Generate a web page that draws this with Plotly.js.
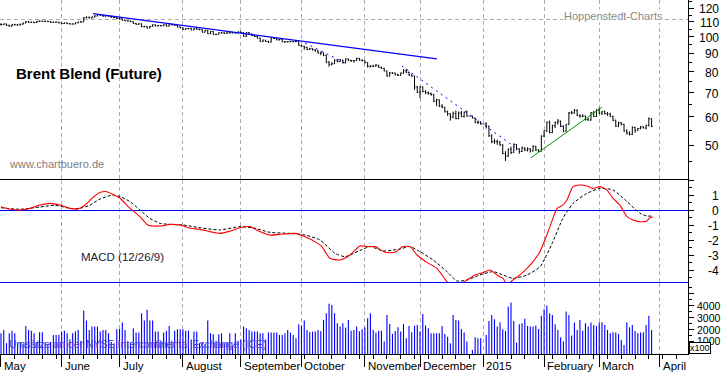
<!DOCTYPE html>
<html><head><meta charset="utf-8">
<script src="https://cdn.plot.ly/plotly-3.0.1.min.js"></script>
<style>html,body{margin:0;padding:0;background:#fff;overflow:hidden}#chart{width:723px;height:373px}</style>
</head><body><div id="chart"></div>
<script>
// ---- categories / ticks ----
const monthStarts = [0,22,43,66,87,109,132,152,175,197,217,239];
const monthLabels = ['May','June','July','August','September','October','November','December','2015','February','March','April'];
const priceTicks = [50,60,70,80,90,100,110,120];
const priceMajor = [40,50,60,70,80,90,100,110,120];
const priceMinor = [45,55,65,75,85,95,105,115,125];
const macdTicks = [1,0,-1,-2,-3,-4];
const volTicks = [1000,2000,3000,4000];

// ---- price (Brent, daily OHLC, May 2014 - Mar 2015) ----
const priceOpen = [
108.4,108.1,108.6,107.7,107.1,108.1,108.0,107.9,108.4,109.2,110.2,109.8,109.8,109.6,110.4,110.6,110.4,110.5,110.3,109.8,109.8,109.9,
109.4,108.9,109.3,108.8,108.6,108.6,109.4,109.9,110.0,113.0,113.4,112.9,113.5,114.3,115.1,114.8,114.1,114.5,114.0,113.2,113.3,
112.4,112.3,111.2,110.8,110.6,110.2,108.9,108.3,108.7,106.7,106.9,105.8,106.9,108.0,107.2,107.6,107.3,108.0,107.1,108.4,107.9,107.7,106.5,
106.0,105.0,105.4,105.6,104.6,105.4,105.0,104.7,103.0,104.3,102.0,103.5,101.6,101.6,102.6,102.6,102.3,102.7,102.5,102.7,102.5,
103.2,102.8,100.3,102.8,101.8,100.8,100.2,99.2,97.0,97.9,97.1,96.7,99.1,98.9,98.1,98.4,96.9,96.9,96.9,97.0,97.0,97.2,
94.7,94.2,93.4,92.3,92.7,92.1,91.4,90.1,90.2,88.9,85.0,83.8,84.2,86.2,85.4,86.2,84.7,86.8,86.1,85.8,85.9,87.1,86.2,
85.9,84.8,82.8,82.9,82.9,83.4,82.3,81.7,80.4,77.9,79.4,79.3,78.5,78.1,79.3,80.4,79.7,78.3,77.8,72.6,
70.2,72.5,70.5,69.9,69.6,69.1,66.2,66.8,64.2,63.7,61.9,61.1,59.9,61.2,59.3,61.4,60.1,61.7,60.2,60.2,59.5,57.9,57.9,
57.3,57.3,56.4,53.1,51.1,51.2,51.0,50.1,47.4,46.6,48.7,47.7,50.2,48.8,48.0,49.0,48.5,48.8,48.2,49.6,48.5,48.1,
53.0,54.8,57.9,54.2,56.6,57.8,58.3,56.4,54.7,57.1,61.5,61.4,62.5,60.5,60.2,60.2,58.9,58.7,61.6,60.1,
62.6,61.4,61.9,61.2,61.0,60.1,58.6,56.5,57.6,57.1,54.7,54.0,53.6,56.0,55.0,55.6,56.2,55.8,56.7,59.2];
const priceHigh = [
109.0,108.9,108.8,108.0,108.5,108.7,108.6,108.9,109.5,110.6,110.5,110.2,110.1,110.8,111.0,110.9,110.9,110.7,110.5,110.2,110.3,110.0,
109.6,109.6,109.5,109.0,108.9,109.7,110.1,110.6,113.5,114.0,113.8,113.9,114.8,115.7,115.5,115.2,114.9,114.8,114.3,113.7,113.6,
112.8,112.5,111.6,111.1,110.9,110.4,109.2,109.1,108.9,107.3,107.1,107.2,108.3,108.2,107.9,107.8,108.3,108.2,108.6,108.7,108.2,107.9,106.8,
106.2,105.7,105.9,105.8,105.7,106.4,105.3,104.9,104.6,104.5,103.8,103.7,102.0,102.9,103.0,102.9,103.0,103.1,103.0,103.0,103.5,
103.4,103.0,103.1,103.0,102.1,101.0,100.4,99.4,98.2,98.1,97.5,99.5,99.7,99.2,98.7,98.6,97.4,97.4,97.5,97.3,97.8,97.4,
95.0,94.4,93.9,93.2,93.0,92.4,91.8,91.0,90.5,89.1,85.6,85.0,86.6,86.5,86.8,86.4,87.1,87.0,86.3,86.1,87.5,87.4,86.5,
86.0,85.0,83.5,83.6,84.0,83.6,82.6,82.0,80.6,79.8,79.7,79.5,79.0,79.6,81.3,81.5,80.0,78.7,78.0,73.0,
73.0,72.8,71.0,70.5,70.0,69.4,67.3,67.0,65.0,63.9,62.4,61.3,62.0,62.4,62.0,62.3,62.0,62.5,60.2,60.4,59.6,58.6,58.3,
57.3,57.9,56.6,53.6,52.1,51.8,51.3,50.3,48.1,49.0,49.5,50.6,50.3,49.0,49.6,49.4,49.3,49.0,50.0,49.8,48.7,53.2,
55.0,58.1,58.5,57.0,58.2,59.1,58.5,56.8,57.3,61.8,62.2,63.0,62.8,60.9,60.9,60.4,59.5,61.8,62.3,62.9,
63.6,62.2,62.4,61.8,61.5,60.4,58.9,58.1,58.0,57.3,55.4,54.6,56.4,56.2,55.8,56.5,56.4,57.0,59.7,59.3];
const priceLow = [
107.6,107.9,107.2,106.6,106.8,107.5,107.4,107.6,108.1,109.0,109.3,109.2,109.1,109.4,110.0,110.0,110.1,110.0,109.3,109.4,109.5,109.0,
108.5,108.6,108.4,108.2,108.2,108.4,109.1,109.6,109.8,112.6,112.4,112.5,113.2,114.0,114.4,113.8,113.7,113.6,112.8,112.9,112.1,
111.8,110.9,110.5,110.3,109.9,108.6,108.0,108.0,106.4,106.2,105.4,105.6,106.6,106.9,107.0,106.9,107.1,106.8,106.9,107.6,107.3,106.2,105.6,
104.6,104.7,104.9,104.2,104.3,104.7,104.3,102.8,102.8,101.8,101.7,101.3,101.1,101.4,102.1,101.9,102.0,102.2,102.2,102.1,102.3,
102.4,100.1,100.1,101.4,100.5,99.9,98.9,96.8,96.7,96.9,96.2,96.5,98.6,97.8,97.7,96.6,96.2,96.5,96.7,96.6,96.7,94.5,
93.6,92.1,91.9,91.9,91.6,90.9,89.8,88.9,88.4,84.5,82.6,83.3,84.0,84.9,85.1,84.3,84.4,85.6,85.1,84.8,85.6,85.8,85.4,
84.4,82.1,82.2,82.4,82.6,82.0,81.4,80.1,77.5,77.6,78.8,78.1,77.8,77.9,79.0,79.3,78.0,77.5,71.2,69.8,
67.5,70.1,69.3,69.0,68.6,65.9,64.2,63.8,63.3,61.6,60.3,58.5,59.4,59.0,59.0,59.8,59.6,60.0,60.2,59.3,57.5,57.2,57.0,
57.3,55.6,52.7,50.6,50.4,50.1,49.7,47.2,45.2,46.4,47.2,47.5,48.4,47.3,47.8,48.1,48.0,47.7,48.0,48.1,47.9,48.0,
52.6,54.4,53.9,54.0,55.8,57.0,56.1,54.3,54.5,56.9,60.9,61.2,60.2,59.6,59.8,58.5,58.4,58.5,59.8,59.9,
61.0,60.6,60.8,60.3,59.8,58.3,56.2,56.1,56.7,54.5,53.5,53.2,53.4,54.1,54.8,55.3,55.6,55.3,56.3,56.1];
const priceClose = [
108.1,108.6,107.7,107.1,108.1,108.0,107.9,108.4,109.2,110.2,109.8,109.8,109.6,110.4,110.6,110.4,110.5,110.3,109.8,109.8,109.9,109.4,
108.9,109.3,108.8,108.6,108.6,109.4,109.9,110.0,113.0,113.4,112.9,113.5,114.3,115.1,114.8,114.1,114.5,114.0,113.2,113.3,112.4,
112.3,111.2,110.8,110.6,110.2,108.9,108.3,108.7,106.7,106.9,105.8,106.9,108.0,107.2,107.6,107.3,108.0,107.1,108.4,107.9,107.7,106.5,106.0,
105.0,105.4,105.6,104.6,105.4,105.0,104.7,103.0,104.3,102.0,103.5,101.6,101.6,102.6,102.6,102.3,102.7,102.5,102.7,102.5,103.2,
102.8,100.3,102.8,101.8,100.8,100.2,99.2,97.0,97.9,97.1,96.7,99.1,98.9,98.1,98.4,96.9,96.9,96.9,97.0,97.0,97.2,94.7,
94.2,93.4,92.3,92.7,92.1,91.4,90.1,90.2,88.9,85.0,83.8,84.2,86.2,85.4,86.2,84.7,86.8,86.1,85.8,85.9,87.1,86.2,85.9,
84.8,82.8,82.9,82.9,83.4,82.3,81.7,80.4,77.9,79.4,79.3,78.5,78.1,79.3,80.4,79.7,78.3,77.8,72.6,70.2,
72.5,70.5,69.9,69.6,69.1,66.2,66.8,64.2,63.7,61.9,61.1,59.9,61.2,59.3,61.4,60.1,61.7,60.2,60.2,59.5,57.9,57.9,57.3,
57.3,56.4,53.1,51.1,51.2,51.0,50.1,47.4,46.6,48.7,47.7,50.2,48.8,48.0,49.0,48.5,48.8,48.2,49.6,48.5,48.1,53.0,
54.8,57.9,54.2,56.6,57.8,58.3,56.4,54.7,57.1,61.5,61.4,62.5,60.5,60.2,60.2,58.9,58.7,61.6,60.1,62.6,
61.4,61.9,61.2,61.0,60.1,58.6,56.5,57.6,57.1,54.7,54.0,53.6,56.0,55.0,55.6,56.2,55.8,56.7,59.2,56.4];

// ---- trend lines (trading-day index, price) ----
const trendDownX = [33.4,158.1], trendDownY = [116.1,86.8];
const trendDot1X = [110.3,124.8], trendDot1Y = [96.1,84.6];
const trendDot2X = [145.4,186.4], trendDot2Y = [83.0,49.4];
const trendUpX = [192.2,218.0], trendUpY = [46.1,63.8];

// ---- MACD (12/26/9) ----
const macdX = [0,3.3,6.9,10.5,14.1,17.8,21.4,25,27.9,30.5,33,35.9,38.4,40.6,43.2,46.8,50.4,53.3,57.7,61.3,64.9,68.6,72.2,75.8,79.4,83.1,86.7,90.3,93.9,97.6,101.2,106.6,110.3,113.9,116.4,119.3,123,126.6,130.2,132.8,135.7,139.3,142.9,145.8,148.4,150.9,154.5,158.1,161.8,164,166.5,169,171.9,174.8,177.4,179.9,182.1,183.5,185.7,188.2,190.8,193,195.5,198,200.2,201.7,203.8,205.3,207.5,210,212.6,214.7,217.3,219.8,222,224.5,227.1,229.2,231.8,234.3,235.4,236.5];
const macdY = [0.22,0.05,0.0,0.11,0.33,0.44,0.33,0.11,0.07,0.33,0.78,1.16,1.22,1.04,0.78,0.11,-0.44,-1.0,-1.07,-0.96,-1.0,-1.22,-1.29,-1.44,-1.56,-1.4,-1.18,-1.11,-1.44,-1.67,-1.62,-1.56,-1.78,-2.11,-2.44,-3.22,-3.33,-3.0,-2.4,-2.44,-2.44,-2.82,-2.82,-2.44,-2.44,-3.0,-3.49,-3.89,-4.78,-5.1,-4.96,-4.67,-4.33,-4.18,-4.0,-4.33,-4.56,-4.95,-4.67,-4.33,-3.89,-3.44,-2.78,-1.67,-0.56,0.11,0.33,0.67,1.56,1.67,1.6,1.44,1.56,1.33,0.78,0.33,-0.44,-0.67,-0.78,-0.73,-0.51,-0.47];
const signalX = [0,6.9,14.1,19.6,25,28.6,32.3,35.9,40.6,43.2,46.8,50.4,54,57.7,61.3,66,72.2,79.4,86.7,92.1,97.6,104.8,110.3,115.7,121.2,124.8,130.2,133.9,138.6,144.7,148.4,152,156.7,161.8,165.4,169,173.7,178.5,182.1,185.7,190.8,195.5,200.2,203.8,207.5,212.6,217.3,222,227.1,231.8,234.3,236.5];
const signalY = [0.15,0.05,0.2,0.31,0.11,0.11,0.33,0.73,1.0,0.89,0.56,0.0,-0.56,-0.89,-0.96,-1.0,-1.18,-1.33,-1.11,-1.22,-1.49,-1.56,-1.67,-2.0,-2.89,-3.11,-2.7,-2.44,-2.73,-2.6,-2.44,-2.78,-3.33,-4.11,-4.73,-4.67,-4.33,-4.11,-4.33,-4.56,-4.33,-3.78,-2.11,-0.56,0.44,1.11,1.44,1.33,0.56,-0.22,-0.4,-0.4];

// ---- volume (x100 contracts) ----
const volume = [
1720,2000,900,1720,1940,1720,900,1000,850,2330,2000,1940,1720,1000,1810,1810,950,800,1000,1580,1580,1580,
1860,1940,1720,1200,1720,1860,2000,1100,3610,2780,2000,2280,2280,2280,1860,2000,2000,1720,1000,900,2080,
2080,2610,2000,1000,950,2140,1780,1780,3390,2780,3670,2780,2780,1860,1860,1100,1780,1940,2330,1100,1940,2060,2060,
2060,1940,1940,1200,1860,1860,900,1000,800,2780,1720,1640,1100,1640,1720,900,1000,1720,700,1720,1100,
1200,2280,2140,2000,1860,1860,1860,1720,1720,1200,1780,1780,1780,1780,1580,1580,1720,2000,1780,1580,1300,2470,
2360,2780,2000,1800,1860,1860,2000,1900,2830,3390,4170,4080,3390,2560,2280,2560,2200,2830,1940,2000,2280,1900,2060,
2220,2970,3390,2000,1780,1940,1940,1030,3250,2500,1670,1920,2220,1860,2500,1310,2330,1810,2360,2420,
1900,3330,2360,2140,1720,1720,1720,1720,2330,1670,1440,890,3250,2830,2780,2080,1780,1030,0,330,1390,1310,1310,
0,1580,2750,3250,2890,2280,2640,2060,1920,3940,4280,2750,940,2470,2560,2920,2330,2280,2280,2360,2080,3170,
3720,4030,3390,3250,2470,2000,1390,1030,3530,3250,1530,2610,2000,2830,1940,2560,2280,2610,2420,2330,
2640,2640,2420,2000,1720,1810,1780,1670,1170,750,2640,2220,2420,1920,1720,1780,1810,2420,3170,2000];

const dayIdx = priceClose.map((_, i) => i);

// ---- geometry (pixels of the 723x373 canvas) ----
const W = 723, H = 373, M = {l:0, r:35, t:0, b:19};
const PH = H - M.t - M.b;            // plot height
const py = v => (PH - v) / PH;        // pixel row -> paper y
const FONT = 'Liberation Sans, Arial, sans-serif';
const GRID = '#b4a6b4';

const traces = [
  {type:'ohlc', x:dayIdx, open:priceOpen, high:priceHigh, low:priceLow, close:priceClose,
   xaxis:'x', yaxis:'y', tickwidth:0.35, hoverinfo:'skip',
   increasing:{line:{color:'#000', width:1}}, decreasing:{line:{color:'#000', width:1}}},
  {type:'scatter', mode:'lines', x:trendDownX, y:trendDownY, xaxis:'x', yaxis:'y', line:{color:'#0000ff', width:1.3}, hoverinfo:'skip'},
  {type:'scatter', mode:'lines', x:trendDot1X, y:trendDot1Y, xaxis:'x', yaxis:'y', line:{color:'#0000ff', width:1, dash:'2px,4px'}, hoverinfo:'skip'},
  {type:'scatter', mode:'lines', x:trendDot2X, y:trendDot2Y, xaxis:'x', yaxis:'y', line:{color:'#0000ff', width:1, dash:'2px,4px'}, hoverinfo:'skip'},
  {type:'scatter', mode:'lines', x:trendUpX, y:trendUpY, xaxis:'x', yaxis:'y', line:{color:'#009900', width:1}, hoverinfo:'skip'},
  {type:'scatter', mode:'lines', x:signalX, y:signalY, xaxis:'x', yaxis:'y2', line:{color:'#000', width:1, dash:'3px,2px', shape:'spline', smoothing:0.6}, hoverinfo:'skip'},
  {type:'scatter', mode:'lines', x:macdX, y:macdY, xaxis:'x', yaxis:'y2', line:{color:'#ff0000', width:1.1, shape:'spline', smoothing:0.6}, hoverinfo:'skip'},
  {type:'bar', x:dayIdx, y:volume, xaxis:'x', yaxis:'y3', width:0.4, marker:{color:'#0000ff', line:{width:0}}, hoverinfo:'skip'}
];

const annotations = [];
monthLabels.forEach((t, i) => annotations.push({xref:'x', yref:'paper', x:monthStarts[i], y:py(366), xanchor:'left', yanchor:'middle', xshift:1,
  text:t, showarrow:false, font:{family:FONT, size:11.5, color:'#000'}}));
priceTicks.forEach(v => annotations.push({xref:'paper', yref:'y', x:1, y:Math.log10(v), xanchor:'right', yanchor:'middle', xshift:33, yshift:-1,
  text:String(v), showarrow:false, font:{family:FONT, size:12, color:'#000'}}));
macdTicks.forEach(v => annotations.push({xref:'paper', yref:'y2', x:1, y:v, xanchor:'right', yanchor:'middle', xshift:33, yshift:-1,
  text:String(v), showarrow:false, font:{family:FONT, size:12, color:'#000'}}));
volTicks.forEach(v => annotations.push({xref:'paper', yref:'y3', x:1, y:v, xanchor:'right', yanchor:'middle', xshift:34,
  yshift:(v === 1000 ? 1 : 0), borderpad:0,
  text:String(v), showarrow:false, font:{family:FONT, size:10.5, color:'#000'}}));
annotations.push(
  {xref:'paper', yref:'paper', x:1, y:0, xanchor:'left', yanchor:'bottom', xshift:1, text:'x100', showarrow:false,
   bgcolor:'#fff', bordercolor:'#000', borderwidth:1, borderpad:0, font:{family:FONT, size:9, color:'#000'}},
  {xref:'paper', yref:'paper', x:14/688, y:py(74), xanchor:'left', yanchor:'middle', text:'<b>Brent Blend (Future)</b>', showarrow:false,
   font:{family:FONT, size:15, color:'#000'}},
  {xref:'paper', yref:'paper', x:7/688, y:py(163.5), xanchor:'left', yanchor:'middle', text:'www.chartbuero.de', showarrow:false,
   font:{family:FONT, size:11, color:'#808080'}},
  {xref:'paper', yref:'paper', x:563/688, y:py(16), xanchor:'left', yanchor:'middle', text:'Hoppenstedt-Charts', showarrow:false,
   bgcolor:'#fff', borderpad:0, font:{family:FONT, size:11, color:'#8a8a8a'}},
  {xref:'paper', yref:'paper', x:79/688, y:py(257), xanchor:'left', yanchor:'middle', text:'MACD (12/26/9)', showarrow:false,
   font:{family:FONT, size:11.5, color:'#1a1a3a'}},
  {xref:'paper', yref:'paper', x:7/688, y:py(344), xanchor:'left', yanchor:'middle', text:'Umsätze an der NYSE Intercontinental Exchange (ICE)', showarrow:false,
   font:{family:FONT, size:10.5, color:'#5038dc'}}
);

const shapes = [
  {type:'line', xref:'paper', yref:'paper', x0:0, x1:1, y0:py(179.5), y1:py(179.5), line:{color:'#000', width:1}},
  {type:'line', xref:'paper', yref:'paper', x0:0, x1:1, y0:py(282.5), y1:py(282.5), line:{color:'#0000ff', width:1}},
  {type:'line', xref:'paper', yref:'paper', x0:0, x1:1, y0:py(19.5), y1:py(19.5), line:{color:GRID, width:1, dash:'4px,3px'}, layer:'below'}
];

const yCommon = {side:'right', anchor:'x', showline:true, linecolor:'#000', linewidth:1, ticks:'outside', tickcolor:'#000',
  showticklabels:false, showgrid:false, fixedrange:true};

const layout = {
  width:W, height:H, margin:M, paper_bgcolor:'#fff', plot_bgcolor:'#fff', showlegend:false,
  font:{family:FONT},
  xaxis:{anchor:'y3', domain:[0,1], range:[-0.36,249.2], tickmode:'array', tickvals:monthStarts, showticklabels:false,
    ticks:'outside', ticklen:12, tickcolor:'#000', showline:true, linecolor:'#000', zeroline:false,
    showgrid:true, gridcolor:GRID, gridwidth:1, griddash:'4px,3px',
    minor:{tick0:0, dtick:5, ticks:'outside', ticklen:4, tickcolor:'#000', showgrid:false},
    rangeslider:{visible:false}, fixedrange:true},
  yaxis:Object.assign({}, yCommon, {domain:[py(180),1], type:'log', range:[Math.log10(40), 2.1024], tickmode:'array', tickvals:priceMajor, ticklen:5,
    zeroline:false, minor:{tickvals:priceMinor, ticks:'outside', ticklen:3, tickcolor:'#000'}}),
  yaxis2:Object.assign({}, yCommon, {domain:[py(287),py(180)], range:[-107/15+2, 2], tickmode:'array', tickvals:[-4,-3,-2,-1,0,1,2], ticklen:5,
    zeroline:true, zerolinecolor:'#0000ff', zerolinewidth:1,
    minor:{tickvals:[-4.5,-3.5,-2.5,-1.5,-0.5,0.5,1.5], ticks:'outside', ticklen:3, tickcolor:'#000'}}),
  yaxis3:Object.assign({}, yCommon, {domain:[0,py(283)], range:[0,5900], tickmode:'array', tickvals:[1000,2000,3000,4000,5000], ticklen:5,
    zeroline:false, minor:{tickvals:[500,1500,2500,3500,4500,5500], ticks:'outside', ticklen:3, tickcolor:'#000'}}),
  annotations:annotations, shapes:shapes
};

Plotly.newPlot('chart', traces, layout, {staticPlot:true, displayModeBar:false});
</script>
</body></html>
